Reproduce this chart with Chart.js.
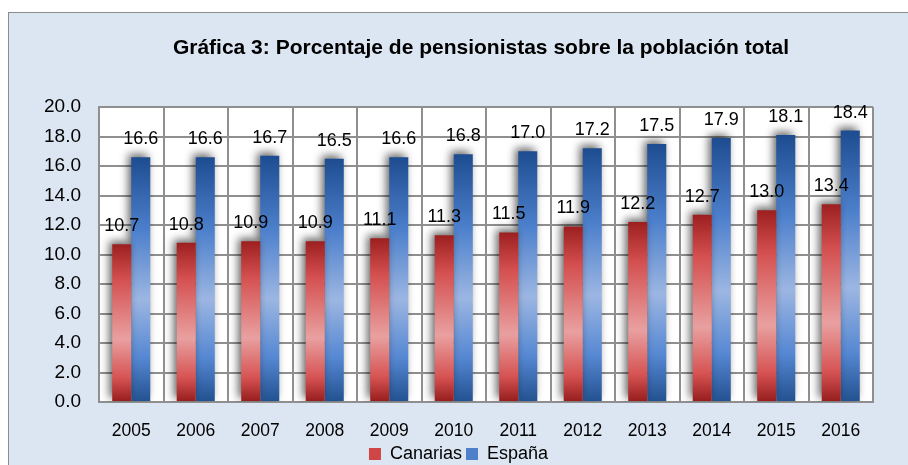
<!DOCTYPE html>
<html>
<head>
<meta charset="utf-8">
<script src="https://cdn.jsdelivr.net/npm/chart.js@4.4.1/dist/chart.umd.min.js"></script>
<style>
  body { margin: 0; background: #fff; }
  #frame { position: absolute; left: 8px; top: 12px; width: 930px; height: 480px;
           background: #dce6f2; border: 1px solid #8c8c8c; }
  #wrap { position: absolute; left: 0; top: 0; width: 908px; height: 465px; }
</style>
</head>
<body>
<div id="frame"></div>
<div id="wrap"><canvas id="chart" width="908" height="465"></canvas></div>
<script>
// ——— Data ———
const years = ['2005','2006','2007','2008','2009','2010','2011','2012','2013','2014','2015','2016'];
const canarias = [10.7, 10.8, 10.9, 10.9, 11.1, 11.3, 11.5, 11.9, 12.2, 12.7, 13.0, 13.4];
const espana   = [16.6, 16.6, 16.7, 16.5, 16.6, 16.8, 17.0, 17.2, 17.5, 17.9, 18.1, 18.4];
const titleText = 'Gráfica 3: Porcentaje de pensionistas sobre la población total';

const FONT = '"Liberation Sans", Arial, sans-serif';

// vertical shaded gradient per bar: dark at the ends, light a bit below middle
function barGradient(stops) {
  return ctx => {
    const chart = ctx.chart;
    if (!chart.chartArea || ctx.type !== 'data') return stops[0][1];
    const y = chart.scales.y;
    const top = y.getPixelForValue(ctx.raw);
    const bottom = y.getPixelForValue(0);
    const g = chart.ctx.createLinearGradient(0, top, 0, bottom);
    stops.forEach(s => g.addColorStop(s[0], s[1]));
    return g;
  };
}
const redStops = [[0, '#9c1f1f'], [0.22, '#d44f4f'], [0.6, '#e9a0a0'], [0.85, '#d65252'], [1, '#951c1c']];
const blueStops = [[0, '#1d4c90'], [0.3, '#4d80cc'], [0.58, '#9cb6e2'], [0.82, '#5587d2'], [1, '#22518f']];

// drop shadow for the bars
const shadowPlugin = {
  id: 'barShadow',
  beforeDatasetsDraw(chart) {
    const c = chart.ctx;
    c.save();
    c.shadowColor = 'rgba(0,0,0,0.6)';
    c.shadowBlur = 8;
    c.shadowOffsetX = -3;
    c.shadowOffsetY = -3;
  },
  afterDatasetsDraw(chart) {
    chart.ctx.restore();
  }
};

// value labels above each bar
const labelPlugin = {
  id: 'valueLabels',
  afterDatasetsDraw(chart) {
    const c = chart.ctx;
    c.save();
    c.font = '18px ' + FONT;
    c.fillStyle = '#000';
    c.textAlign = 'center';
    c.textBaseline = 'alphabetic';
    chart.data.datasets.forEach((ds, i) => {
      chart.getDatasetMeta(i).data.forEach((bar, j) => {
        c.fillText(ds.data[j].toFixed(1), bar.x, bar.y - 13);
      });
    });
    c.restore();
  }
};

// title centred over the plot, as in the original
const titlePlugin = {
  id: 'plotTitle',
  afterDraw(chart) {
    const c = chart.ctx;
    c.save();
    c.font = 'bold 21px ' + FONT;
    c.fillStyle = '#000';
    c.textAlign = 'center';
    c.textBaseline = 'middle';
    c.fillText(titleText, 481, 48);
    c.restore();
  }
};

new Chart(document.getElementById('chart'), {
  type: 'bar',
  data: {
    labels: years,
    datasets: [
      { label: 'Canarias', data: canarias, backgroundColor: barGradient(redStops) },
      { label: 'España', data: espana, backgroundColor: barGradient(blueStops) }
    ]
  },
  options: {
    responsive: false,
    animation: false,
    devicePixelRatio: 1,
    layout: { padding: { left: 44, right: 35, top: 107, bottom: -8 } },
    datasets: { bar: { categoryPercentage: 0.59, barPercentage: 1.0, borderWidth: 0 } },
    scales: {
      x: {
        grid: { color: '#8f8f8f', lineWidth: 2, drawTicks: false, offset: true },
        border: { color: '#8f8f8f', width: 2 },
        ticks: { color: '#000', font: { family: FONT, size: 17.5 }, padding: 19, maxRotation: 0 },
        afterFit: s => { s.height = 39; }
      },
      y: {
        min: 0, max: 20,
        grid: { color: '#8f8f8f', lineWidth: 2, drawTicks: false },
        border: { color: '#8f8f8f', width: 2 },
        ticks: { stepSize: 2, autoSkip: false, color: '#000', font: { family: FONT, size: 19 }, padding: 18,
                 callback: v => v.toFixed(1) },
        afterFit: s => { s.width = 55; }
      }
    },
    plugins: {
      title: { display: false },
      legend: {
        position: 'bottom',
        labels: {
          color: '#000',
          font: { family: FONT, size: 18 },
          boxWidth: 12, boxHeight: 12, padding: 4,
          generateLabels: chart => [
            { text: 'Canarias', fillStyle: '#d04545', strokeStyle: '#d04545', lineWidth: 0, datasetIndex: 0 },
            { text: 'España', fillStyle: '#4d80c8', strokeStyle: '#4d80c8', lineWidth: 0, datasetIndex: 1 }
          ]
        }
      },
      tooltip: { enabled: false }
    }
  },
  plugins: [shadowPlugin, labelPlugin, titlePlugin, {
    id: 'plotBg',
    beforeDraw(chart) {
      const a = chart.chartArea, c = chart.ctx;
      c.save();
      c.fillStyle = '#fff';
      c.fillRect(a.left, a.top, a.right - a.left, a.bottom - a.top);
      c.restore();
    }
  }]
});
</script>
</body>
</html>
